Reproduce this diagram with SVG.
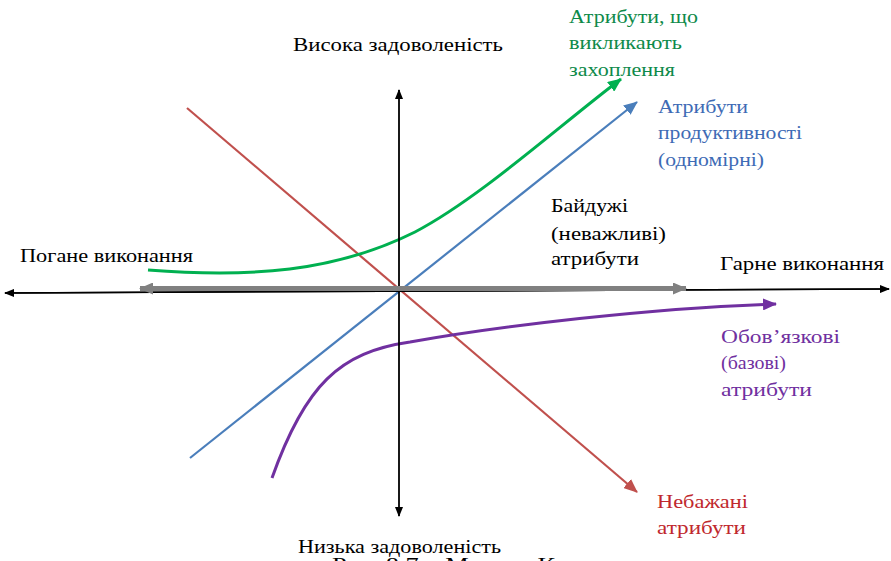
<svg xmlns="http://www.w3.org/2000/svg" width="891" height="561" viewBox="0 0 891 561">
<style>
text{font-family:"Liberation Serif","Times New Roman","DejaVu Serif",serif;font-size:19.5px}
.k{fill:#000}.g{fill:#0E8A4A}.b{fill:#3E6BB5}.p{fill:#7030A0}.r{fill:#C0282D}
</style>
<defs>
<marker id="ak" markerWidth="10" markerHeight="8" refX="9" refY="4" orient="auto" markerUnits="userSpaceOnUse"><path d="M0,0 L10,4 L0,8 Z" fill="#000"/></marker>
<marker id="ag" markerWidth="14" markerHeight="12" refX="13" refY="6" orient="auto" markerUnits="userSpaceOnUse"><path d="M0,0 L14,6 L0,12 Z" fill="#808080"/></marker>
<marker id="agr" markerWidth="14" markerHeight="12" refX="13" refY="6" orient="auto" markerUnits="userSpaceOnUse"><path d="M0,0 L14,6 L0,12 Z" fill="#00B050"/></marker>
<marker id="abl" markerWidth="14" markerHeight="12" refX="13" refY="6" orient="auto" markerUnits="userSpaceOnUse"><path d="M0,0 L14,6 L0,12 Z" fill="#4A7EBB"/></marker>
<marker id="apu" markerWidth="14" markerHeight="12" refX="13" refY="6" orient="auto" markerUnits="userSpaceOnUse"><path d="M0,0 L14,6 L0,12 Z" fill="#7030A0"/></marker>
<marker id="are" markerWidth="14" markerHeight="12" refX="13" refY="6" orient="auto" markerUnits="userSpaceOnUse"><path d="M0,0 L14,6 L0,12 Z" fill="#C0504D"/></marker>
</defs>
<g id="connectors" fill="none">
<line x1="187" y1="108" x2="637" y2="492" stroke="#C0504D" stroke-width="2.2" marker-end="url(#are)"/>
<line x1="190" y1="458" x2="637" y2="102" stroke="#4A7EBB" stroke-width="2.2" marker-end="url(#abl)"/>
<path d="M148,270 C250,278 335,272 415,232 C480,198 560,125 621,79" stroke="#00B050" stroke-width="3" marker-end="url(#agr)"/>
<path d="M272,478 C305,385 340,352 410,342 C500,326 650,308 776,304" stroke="#7030A0" stroke-width="3" marker-end="url(#apu)"/>
<line x1="889" y1="289" x2="5" y2="293" stroke="#000" stroke-width="1.5" marker-end="url(#ak)"/>
<line x1="5" y1="293" x2="889" y2="289" stroke="#000" stroke-width="1.5" marker-end="url(#ak)"/>
<line x1="399" y1="300" x2="399" y2="90" stroke="#000" stroke-width="1.8" marker-end="url(#ak)"/>
<line x1="399" y1="300" x2="399" y2="516" stroke="#000" stroke-width="1.8" marker-end="url(#ak)"/>
<line x1="400" y1="288.5" x2="140" y2="288.5" stroke="#808080" stroke-width="5" marker-end="url(#ag)"/>
<line x1="400" y1="288.5" x2="686" y2="288.5" stroke="#808080" stroke-width="5" marker-end="url(#ag)"/>
</g>
<g id="high"><text class="k" x="293" y="51" textLength="210" lengthAdjust="spacingAndGlyphs">Висока задоволеність</text></g>
<g id="low"><text class="k" x="298" y="553" textLength="203" lengthAdjust="spacingAndGlyphs">Низька задоволеність</text></g>
<g id="poor"><text class="k" x="20" y="262" textLength="173" lengthAdjust="spacingAndGlyphs">Погане виконання</text></g>
<g id="good"><text class="k" x="720" y="270" textLength="164" lengthAdjust="spacingAndGlyphs">Гарне виконання</text></g>
<g id="indifferent"><text class="k" x="551" y="212" textLength="77" lengthAdjust="spacingAndGlyphs">Байдужі</text><text class="k" x="551" y="240" textLength="115" lengthAdjust="spacingAndGlyphs">(неважливі)</text><text class="k" x="551" y="265" textLength="88" lengthAdjust="spacingAndGlyphs">атрибути</text></g>
<g id="attractive"><text class="g" x="569" y="23" textLength="129" lengthAdjust="spacingAndGlyphs">Атрибути, що</text><text class="g" x="569" y="49" textLength="113" lengthAdjust="spacingAndGlyphs">викликають</text><text class="g" x="569" y="76" textLength="106" lengthAdjust="spacingAndGlyphs">захоплення</text></g>
<g id="performance"><text class="b" x="658" y="113" textLength="90" lengthAdjust="spacingAndGlyphs">Атрибути</text><text class="b" x="658" y="139" textLength="144" lengthAdjust="spacingAndGlyphs">продуктивності</text><text class="b" x="658" y="166" textLength="106" lengthAdjust="spacingAndGlyphs">(одномірні)</text></g>
<g id="mustbe"><text class="p" x="721" y="343" textLength="119" lengthAdjust="spacingAndGlyphs">Обов’язкові</text><text class="p" x="721" y="369" textLength="65" lengthAdjust="spacingAndGlyphs">(базові)</text><text class="p" x="721" y="396" textLength="91" lengthAdjust="spacingAndGlyphs">атрибути</text></g>
<g id="reverse"><text class="r" x="657" y="508" textLength="91" lengthAdjust="spacingAndGlyphs">Небажані</text><text class="r" x="657" y="534" textLength="89" lengthAdjust="spacingAndGlyphs">атрибути</text></g>
<g id="caption"><text class="k" x="332" y="571" textLength="262" lengthAdjust="spacingAndGlyphs">Рис. 8.7 – Модель Кано</text></g>
</svg>
